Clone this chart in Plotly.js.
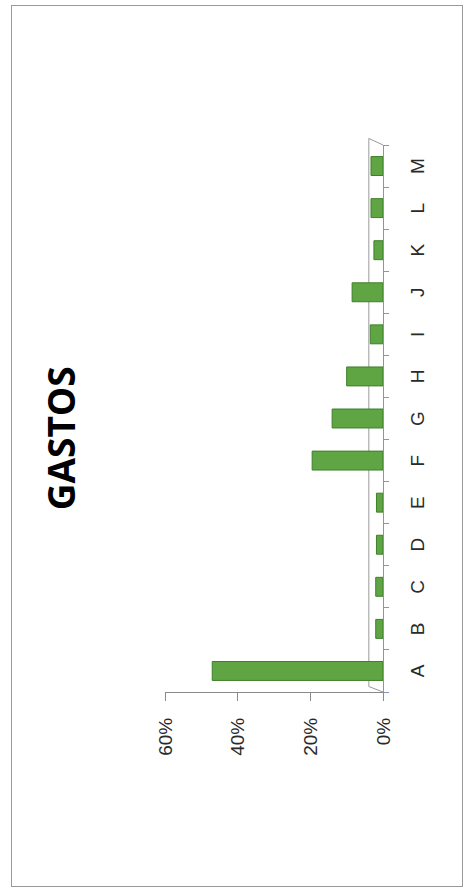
<!DOCTYPE html>
<html>
<head>
<meta charset="utf-8">
<script src="https://cdn.plot.ly/plotly-3.0.1.min.js"></script>
<style>
  html, body { margin: 0; padding: 0; background: #ffffff; overflow: hidden; }
  #frame { position: absolute; left: 11px; top: 5px; width: 450px; height: 880px; border: 1px solid #9a9a9a; }
  #chart { position: absolute; left: 0; top: 0; width: 889px; height: 465px;
           transform-origin: 0 0; transform: translate(0px, 889px) rotate(-90deg); }
</style>
</head>
<body>
<div id="frame"></div>
<div id="chart"></div>
<script>
// Data
const categories = ["A", "B", "C", "D", "E", "F", "G", "H", "I", "J", "K", "L", "M"];
const gastos = [47, 2, 2, 1.8, 1.8, 19.5, 14, 10, 3.5, 8.5, 2.5, 3.3, 3.3];
const valueTicks = [0, 20, 40, 60];
const chartTitle = "GASTOS";

const trace = {
  type: "bar",
  x: categories,
  y: gastos,
  marker: { color: "#5fa544", line: { color: "#3f7f2a", width: 1 } },
  hoverinfo: "x+y"
};

const layout = {
  width: 889,
  height: 465,
  margin: { l: 197, r: 145, t: 165, b: 82 },
  paper_bgcolor: "rgba(0,0,0,0)",
  plot_bgcolor: "rgba(0,0,0,0)",
  showlegend: false,
  bargap: 0.55,
  title: {
    text: "<b>" + chartTitle + "</b>",
    font: { family: "Open Sans", size: 37, color: "#000000" },
    xref: "container", x: 0.507, xanchor: "center",
    yref: "container", y: 0.867, yanchor: "middle"
  },
  xaxis: {
    type: "category",
    categoryorder: "array",
    categoryarray: categories,
    showline: true,
    linecolor: "#8a93b0",
    linewidth: 1,
    ticks: "outside",
    tickson: "boundaries",
    ticklen: 5,
    tickcolor: "#8a93b0",
    showgrid: false,
    zeroline: false,
    ticklabelstandoff: 17,
    tickfont: { family: "Liberation Sans", size: 19, color: "#2a2a2a" }
  },
  yaxis: {
    range: [0, 60],
    tickvals: valueTicks,
    ticktext: valueTicks.map(v => v + "%"),
    showline: true,
    linecolor: "#8a8a8a",
    linewidth: 1,
    ticks: "outside",
    ticklen: 8,
    tickcolor: "#8a8a8a",
    showgrid: false,
    zeroline: false,
    ticklabelstandoff: 13,
    tickfont: { family: "Liberation Sans", size: 19, color: "#2a2a2a" }
  },
  shapes: [
    { type: "line", xref: "paper", yref: "paper", x0: 0.01, x1: 1.012, y0: 0.065, y1: 0.065,
      line: { color: "#9a9a9a", width: 1 }, layer: "below" },
    { type: "line", xref: "paper", yref: "paper", x0: 0, x1: 0.01, y0: 0, y1: 0.065,
      line: { color: "#9a9a9a", width: 1 }, layer: "below" },
    { type: "line", xref: "paper", yref: "paper", x0: 1, x1: 1.012, y0: 0, y1: 0.065,
      line: { color: "#9a9a9a", width: 1 }, layer: "below" }
  ]
};

Plotly.newPlot("chart", [trace], layout, { displayModeBar: false, staticPlot: true });
</script>
</body>
</html>
